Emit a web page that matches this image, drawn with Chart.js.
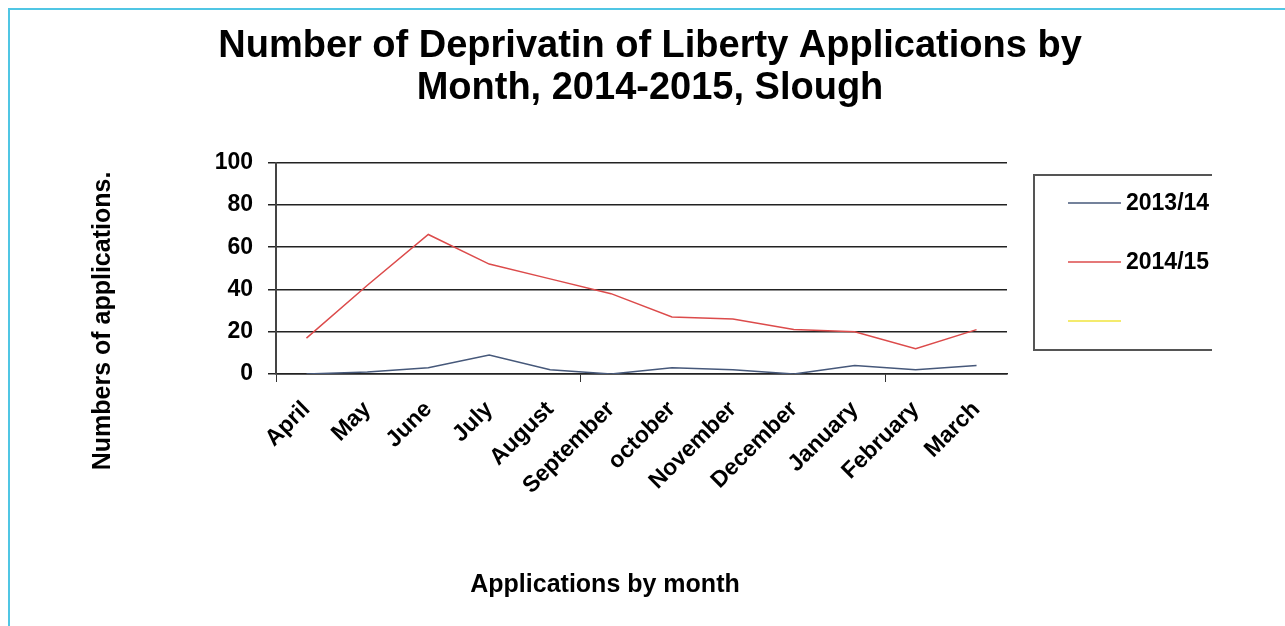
<!DOCTYPE html>
<html>
<head>
<meta charset="utf-8">
<script src="https://cdn.jsdelivr.net/npm/chart.js@4"></script>
<style>
  html, body { margin: 0; padding: 0; background: #fff; }
  #frame {
    position: absolute; left: 8px; top: 8px; width: 1300px; height: 700px;
    border-left: 2px solid #50c6e4; border-top: 2px solid #50c6e4;
  }
  #chart { position: absolute; left: 0; top: 0; }
</style>
</head>
<body>
<div id="frame"></div>
<canvas id="chart" width="1285" height="626"></canvas>
<script>
const months = ['April', 'May', 'June', 'July', 'August', 'September', 'october', 'November', 'December', 'January', 'February', 'March'];
const apps1314 = [0, 1, 3, 9, 2, 0, 3, 2, 0, 4, 2, 4];
const apps1415 = [17, 42, 66, 52, 45, 38, 27, 26, 21, 20, 12, 21];
const apps3 = [];
const seriesNames = ['2013/14', '2014/15', ''];

const FONT = 'Liberation Sans, Arial, sans-serif';

// axis titles and the boxed legend are drawn by hand
const extras = {
  id: 'extras',
  afterDraw: (chart) => {
    const ctx = chart.ctx;
    ctx.save();
    ctx.fillStyle = '#000';
    ctx.font = `bold 25px ${FONT}`;
    ctx.textAlign = 'center';
    ctx.textBaseline = 'middle';
    ctx.fillText('Applications by month', 605, 585);

    ctx.translate(103, 321);
    ctx.rotate(-Math.PI / 2);
    ctx.fillText('Numbers of applications.', 0, 0);
    ctx.restore();

    // legend box, open on the right
    const left = chart.chartArea.right + 27;
    const top = 175, bottom = 350, right = 1212;
    ctx.save();
    ctx.strokeStyle = '#555';
    ctx.lineWidth = 2;
    ctx.beginPath();
    ctx.moveTo(right, top);
    ctx.lineTo(left, top);
    ctx.lineTo(left, bottom);
    ctx.lineTo(right, bottom);
    ctx.stroke();

    ctx.font = `bold 23px ${FONT}`;
    ctx.textAlign = 'left';
    ctx.textBaseline = 'middle';
    chart.data.datasets.forEach((ds, i) => {
      const y = 203 + i * 59;
      ctx.strokeStyle = ds.borderColor;
      ctx.lineWidth = 1.5;
      ctx.beginPath();
      ctx.moveTo(left + 34, y);
      ctx.lineTo(left + 87, y);
      ctx.stroke();
      ctx.fillStyle = '#000';
      ctx.fillText(ds.label, left + 92, y + 1);
    });
    ctx.restore();
  }
};

new Chart(document.getElementById('chart'), {
  type: 'line',
  data: {
    labels: months,
    datasets: [
      { label: seriesNames[0], data: apps1314, borderColor: '#46587a', borderWidth: 1.5, pointRadius: 0, tension: 0 },
      { label: seriesNames[1], data: apps1415, borderColor: '#dc4b4b', borderWidth: 1.5, pointRadius: 0, tension: 0 },
      { label: seriesNames[2], data: apps3, borderColor: '#f0e43c', borderWidth: 1.5, pointRadius: 0, tension: 0 }
    ]
  },
  options: {
    responsive: false,
    animation: false,
    layout: { padding: { left: 15, right: 0, top: 0, bottom: 0 } },
    plugins: {
      legend: { display: false },
      tooltip: { enabled: false },
      title: {
        display: true,
        text: ['Number of Deprivatin of Liberty Applications by', 'Month, 2014-2015, Slough'],
        color: '#000',
        font: { family: FONT, size: 38, weight: 'bold', lineHeight: 1.1 },
        padding: { top: 26, bottom: 53 }
      }
    },
    scales: {
      x: {
        offset: true,
        grid: {
          offset: true,
          drawOnChartArea: false,
          tickLength: 8,
          tickColor: (c) => c.index % 5 === 0 ? '#333' : 'rgba(0,0,0,0)'
        },
        border: { color: '#222', width: 1.5 },
        ticks: {
          autoSkip: false,
          maxRotation: 45,
          minRotation: 45,
          padding: 14,
          color: '#000',
          font: { family: FONT, size: 23, weight: 'bold' }
        },
        afterFit: (scale) => { scale.height = 252; }
      },
      y: {
        min: 0,
        max: 100,
        ticks: {
          stepSize: 20,
          padding: 15,
          color: '#000',
          font: { family: FONT, size: 23, weight: 'bold' }
        },
        grid: { color: '#222', lineWidth: 1.5, tickLength: 8 },
        border: { color: '#444', width: 2 },
        afterFit: (scale) => { scale.width = 261; }
      },
      // empty right-hand axis that keeps room for the legend box
      spacer: {
        position: 'right',
        min: 0,
        max: 100,
        ticks: { display: false },
        grid: { display: false },
        border: { display: false },
        afterFit: (scale) => { scale.width = 278; }
      }
    }
  },
  plugins: [extras]
});
</script>
</body>
</html>
